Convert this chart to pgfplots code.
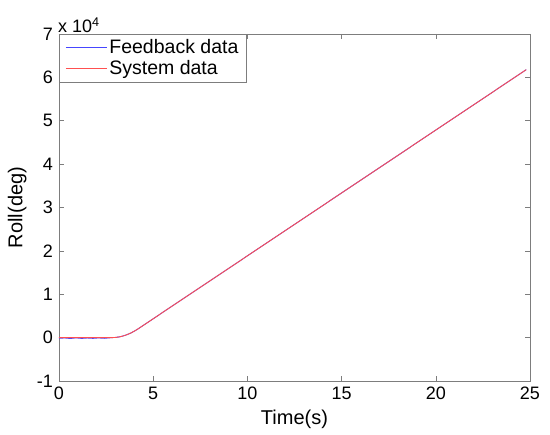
\documentclass[border=0pt]{standalone}
\usepackage{pgfplots}
\pgfplotsset{compat=1.18}
\usepackage{fontspec}
\setmainfont{Liberation Sans}
\definecolor{axgray}{RGB}{125,125,125}
\definecolor{fbblue}{RGB}{70,70,255}
\definecolor{sysred}{RGB}{255,80,80}
\begin{document}
\fontsize{18}{21}\selectfont
\begin{tikzpicture}
\useasboundingbox (-59pt,-54pt) rectangle (491pt,381pt);
\begin{axis}[
  at={(0,0)}, anchor=south west,
  scale only axis, width=471pt, height=347pt,
  xmin=0, xmax=25, ymin=-10000, ymax=70000,
  xtick={0,5,...,25}, ytick={-10000,0,...,70000},
  scaled y ticks=base 10:-4,
  ytick scale label code/.code={x 10\textsuperscript{4}},
  every y tick scale label/.style={at={(rel axis cs:0,1)}, anchor=south west, inner sep=1pt, xshift=-2pt, font=\fontsize{18}{21}\selectfont},
  tick align=inside,
  major tick length=5pt,
  axis line style={axgray},
  tick style={axgray, line width=0.5pt},
  xlabel={Time(s)}, ylabel={Roll(deg)},
  xlabel style={yshift=2pt},
  ylabel style={yshift=-2pt},
  /pgf/number format/assume math mode=true,
  tick label style={font=\fontsize{18}{21}\selectfont},
  label style={font=\fontsize{20}{23}\selectfont},
  legend style={at={(0,1)}, anchor=north west, draw=axgray, font=\fontsize{19.5}{22}\selectfont, inner xsep=6pt, inner ysep=3pt, row sep=0pt},
  legend cell align=left,
  legend image code/.code={\draw[#1] (0pt,0.3pt) -- (41pt,0.3pt);},
]
\addlegendimage{draw=fbblue, line width=1.2pt}
\addlegendentry{Feedback data}
\addlegendimage{draw=sysred, line width=1.2pt}
\addlegendentry{System data}
\addplot[color=fbblue, line width=0.9pt, forget plot] coordinates {
(0,-150) (0.3,-80) (0.6,-200) (0.9,-60) (1.2,-180) (1.5,-90) (1.8,-170) (2.1,-70) (2.4,-160) (2.8,0)
(3.0,41) (3.2,166) (3.4,373) (3.6,663) (3.8,1036) (4.0,1491) (4.2,2030)
(5,4350) (10,18850) (15,33350) (20,47850) (24.8,61770)};
\addplot[color=sysred, line width=0.9pt, forget plot] coordinates {
(0,0) (0.5,0) (1,0) (1.5,0) (2,0) (2.5,0) (2.8,0)
(3.0,41) (3.2,166) (3.4,373) (3.6,663) (3.8,1036) (4.0,1491) (4.2,2030)
(5,4350) (10,18850) (15,33350) (20,47850) (24.8,61770)};
\end{axis}
\end{tikzpicture}
\end{document}
